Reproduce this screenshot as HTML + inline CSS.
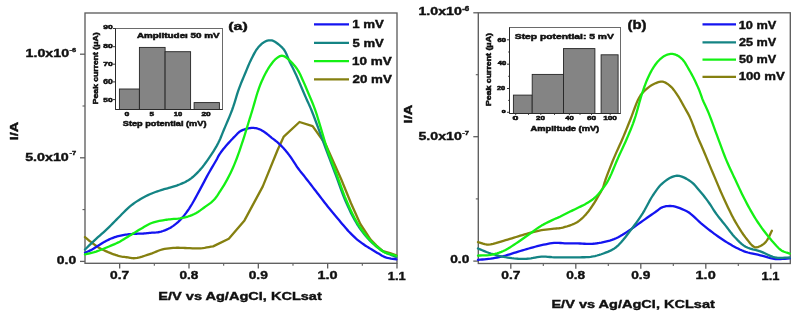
<!DOCTYPE html><html><head><meta charset="utf-8"><style>html,body{margin:0;padding:0;background:#fff;width:797px;height:315px;overflow:hidden}svg{display:block;will-change:transform}text{font-family:"Liberation Sans",sans-serif;font-weight:bold;fill:#111;stroke:#111;stroke-width:0.4px}.hv text{stroke-width:0.5px}</style></head><body>
<svg width="797" height="315" viewBox="0 0 797 315">
<rect x="85" y="13" width="312" height="250.3" fill="none" stroke="#5e5e5e" stroke-width="1.35"/><line x1="119.66499999999995" y1="263.3" x2="119.66499999999995" y2="268.5" stroke="#5e5e5e" stroke-width="1.3"/><line x1="188.995" y1="263.3" x2="188.995" y2="268.5" stroke="#5e5e5e" stroke-width="1.3"/><line x1="258.325" y1="263.3" x2="258.325" y2="268.5" stroke="#5e5e5e" stroke-width="1.3"/><line x1="327.655" y1="263.3" x2="327.655" y2="268.5" stroke="#5e5e5e" stroke-width="1.3"/><line x1="396.985" y1="263.3" x2="396.985" y2="268.5" stroke="#5e5e5e" stroke-width="1.3"/><line x1="154.32999999999998" y1="263.3" x2="154.32999999999998" y2="265.8" stroke="#5e5e5e" stroke-width="1.1"/><line x1="223.65999999999997" y1="263.3" x2="223.65999999999997" y2="265.8" stroke="#5e5e5e" stroke-width="1.1"/><line x1="292.98999999999995" y1="263.3" x2="292.98999999999995" y2="265.8" stroke="#5e5e5e" stroke-width="1.1"/><line x1="362.32" y1="263.3" x2="362.32" y2="265.8" stroke="#5e5e5e" stroke-width="1.1"/><line x1="80" y1="54.2" x2="85" y2="54.2" stroke="#5e5e5e" stroke-width="1.3"/><line x1="80" y1="157.8" x2="85" y2="157.8" stroke="#5e5e5e" stroke-width="1.3"/><line x1="80" y1="261.4" x2="85" y2="261.4" stroke="#5e5e5e" stroke-width="1.3"/><line x1="82.5" y1="106" x2="85" y2="106" stroke="#5e5e5e" stroke-width="1.1"/><line x1="82.5" y1="209.6" x2="85" y2="209.6" stroke="#5e5e5e" stroke-width="1.1"/>
<rect x="478.3" y="12.8" width="311.99999999999994" height="250.7" fill="none" stroke="#5e5e5e" stroke-width="1.35"/><line x1="510.79999999999995" y1="263.5" x2="510.79999999999995" y2="268.7" stroke="#5e5e5e" stroke-width="1.3"/><line x1="575.8000000000001" y1="263.5" x2="575.8000000000001" y2="268.7" stroke="#5e5e5e" stroke-width="1.3"/><line x1="640.8" y1="263.5" x2="640.8" y2="268.7" stroke="#5e5e5e" stroke-width="1.3"/><line x1="705.8" y1="263.5" x2="705.8" y2="268.7" stroke="#5e5e5e" stroke-width="1.3"/><line x1="770.8000000000001" y1="263.5" x2="770.8000000000001" y2="268.7" stroke="#5e5e5e" stroke-width="1.3"/><line x1="543.3" y1="263.5" x2="543.3" y2="266.0" stroke="#5e5e5e" stroke-width="1.1"/><line x1="608.3" y1="263.5" x2="608.3" y2="266.0" stroke="#5e5e5e" stroke-width="1.1"/><line x1="673.3" y1="263.5" x2="673.3" y2="266.0" stroke="#5e5e5e" stroke-width="1.1"/><line x1="738.3" y1="263.5" x2="738.3" y2="266.0" stroke="#5e5e5e" stroke-width="1.1"/><line x1="473.3" y1="12.8" x2="478.3" y2="12.8" stroke="#5e5e5e" stroke-width="1.3"/><line x1="473.3" y1="136.7" x2="478.3" y2="136.7" stroke="#5e5e5e" stroke-width="1.3"/><line x1="473.3" y1="261.1" x2="478.3" y2="261.1" stroke="#5e5e5e" stroke-width="1.3"/><line x1="475.8" y1="74.7" x2="478.3" y2="74.7" stroke="#5e5e5e" stroke-width="1.1"/><line x1="475.8" y1="198.9" x2="478.3" y2="198.9" stroke="#5e5e5e" stroke-width="1.1"/>
<line x1="314" y1="24.3" x2="349" y2="24.3" stroke="#1414f0" stroke-width="2.3"/><line x1="314" y1="42.8" x2="349" y2="42.8" stroke="#148484" stroke-width="2.3"/><line x1="314" y1="61.2" x2="349" y2="61.2" stroke="#14f014" stroke-width="2.3"/><line x1="314" y1="79.4" x2="349" y2="79.4" stroke="#858010" stroke-width="2.3"/>
<line x1="702.5" y1="24.4" x2="736" y2="24.4" stroke="#1414f0" stroke-width="2.3"/><line x1="702.5" y1="42.3" x2="736" y2="42.3" stroke="#148484" stroke-width="2.3"/><line x1="702.5" y1="59.6" x2="736" y2="59.6" stroke="#14f014" stroke-width="2.3"/><line x1="702.5" y1="76.8" x2="736" y2="76.8" stroke="#858010" stroke-width="2.3"/>
<g>
<path d="M85.00,237.10 L86.18,238.07 L87.36,239.06 L88.53,240.04 L89.71,241.02 L90.90,241.97 L92.10,242.90 L93.28,243.79 L94.47,244.67 L95.67,245.53 L96.87,246.36 L98.08,247.15 L99.30,247.90 L100.47,248.56 L101.64,249.18 L102.82,249.76 L104.01,250.32 L105.20,250.86 L106.40,251.40 L107.59,251.92 L108.78,252.44 L109.99,252.93 L111.19,253.41 L112.39,253.87 L113.60,254.30 L114.78,254.70 L115.96,255.09 L117.14,255.46 L118.32,255.81 L119.51,256.12 L120.70,256.40 L121.89,256.63 L123.09,256.82 L124.29,256.98 L125.50,257.12 L126.70,257.26 L127.90,257.40 L129.06,257.58 L130.18,257.79 L131.30,257.99 L132.45,258.16 L133.68,258.24 L135.00,258.20 L137.18,257.89 L139.60,257.33 L142.16,256.60 L144.77,255.77 L147.35,254.91 L149.80,254.10 L151.98,253.33 L154.11,252.48 L156.20,251.61 L158.28,250.77 L160.38,250.01 L162.50,249.40 L164.62,248.94 L166.77,248.58 L168.93,248.30 L171.07,248.08 L173.17,247.92 L175.20,247.80 L176.88,247.75 L178.48,247.75 L180.04,247.80 L181.62,247.88 L183.26,247.95 L185.00,248.00 L187.37,248.08 L189.90,248.19 L192.53,248.30 L195.18,248.38 L197.79,248.39 L200.30,248.30 L202.50,248.10 L204.66,247.82 L206.78,247.48 L208.88,247.11 L210.98,246.74 L213.10,246.40 L213.1,246.4 L228.8,238.7 L244.5,220.4 L262.8,186.4 L277.6,150.0 L283.8,136.6 L299.5,122.0 L312.6,126.2 L325.7,144.5 L341.2,179.3 L351.0,203.3 L360.3,224.0 L370.6,239.6 L376.5,245.5 L382.9,251.0 L390.0,253.2 L396.4,255.4" fill="none" stroke="#858010" stroke-width="2.3" stroke-linejoin="round" stroke-linecap="round"/>
<path d="M85.00,252.80 L86.19,252.26 L87.37,251.74 L88.56,251.21 L89.75,250.67 L90.93,250.11 L92.10,249.50 L93.31,248.81 L94.51,248.07 L95.71,247.30 L96.91,246.52 L98.10,245.75 L99.30,245.00 L100.48,244.28 L101.66,243.55 L102.83,242.83 L104.01,242.12 L105.20,241.44 L106.40,240.80 L107.58,240.20 L108.78,239.62 L109.98,239.07 L111.18,238.55 L112.39,238.06 L113.60,237.60 L114.77,237.20 L115.95,236.82 L117.13,236.48 L118.32,236.17 L119.51,235.87 L120.70,235.60 L121.89,235.35 L123.09,235.12 L124.29,234.91 L125.50,234.73 L126.70,234.56 L127.90,234.40 L129.08,234.26 L130.24,234.15 L131.41,234.04 L132.59,233.96 L133.78,233.88 L135.00,233.80 L136.38,233.73 L137.81,233.69 L139.25,233.66 L140.70,233.62 L142.12,233.57 L143.50,233.50 L144.70,233.41 L145.85,233.30 L146.99,233.18 L148.13,233.05 L149.29,232.92 L150.50,232.80 L151.92,232.70 L153.37,232.63 L154.85,232.57 L156.36,232.46 L157.88,232.29 L159.40,232.00 L161.15,231.55 L162.94,230.99 L164.74,230.34 L166.54,229.61 L168.30,228.79 L170.00,227.90 L171.67,226.91 L173.31,225.84 L174.90,224.69 L176.46,223.44 L177.99,222.12 L179.50,220.70 L181.17,218.98 L182.80,217.13 L184.39,215.17 L185.95,213.12 L187.48,210.99 L189.00,208.80 L190.67,206.23 L192.30,203.52 L193.89,200.71 L195.47,197.85 L197.03,194.96 L198.60,192.10 L200.21,189.15 L201.80,186.14 L203.39,183.11 L204.97,180.10 L206.54,177.15 L208.10,174.30 L209.54,171.75 L211.03,169.19 L212.50,166.68 L213.92,164.27 L215.24,162.03 L216.40,160.00 L217.04,158.83 L217.58,157.78 L218.07,156.80 L218.57,155.84 L219.13,154.86 L219.80,153.80 L220.86,152.29 L222.06,150.71 L223.35,149.08 L224.71,147.45 L226.07,145.84 L227.40,144.30 L228.66,142.87 L229.96,141.45 L231.27,140.05 L232.56,138.70 L233.81,137.41 L235.00,136.20 L235.87,135.29 L236.68,134.41 L237.47,133.57 L238.26,132.78 L239.10,132.05 L240.00,131.40 L240.97,130.84 L241.99,130.35 L243.05,129.92 L244.13,129.54 L245.22,129.20 L246.30,128.90 L247.35,128.63 L248.42,128.38 L249.49,128.17 L250.56,128.02 L251.63,127.92 L252.70,127.90 L253.76,127.95 L254.82,128.06 L255.87,128.23 L256.93,128.46 L257.97,128.75 L259.00,129.10 L260.09,129.55 L261.17,130.08 L262.25,130.67 L263.31,131.32 L264.36,132.00 L265.40,132.70 L266.47,133.47 L267.53,134.30 L268.57,135.17 L269.61,136.06 L270.65,136.94 L271.70,137.80 L272.77,138.63 L273.84,139.44 L274.92,140.24 L275.99,141.06 L277.06,141.91 L278.10,142.80 L279.18,143.79 L280.26,144.82 L281.32,145.89 L282.37,146.98 L283.40,148.08 L284.40,149.20 L285.37,150.31 L286.30,151.41 L287.21,152.53 L288.12,153.69 L289.04,154.91 L290.00,156.20 L291.24,157.98 L292.52,159.92 L293.82,161.95 L295.13,163.99 L296.43,165.97 L297.70,167.80 L298.77,169.24 L299.82,170.60 L300.87,171.91 L301.92,173.20 L302.96,174.49 L304.00,175.80 L305.03,177.12 L306.04,178.42 L307.04,179.72 L308.06,181.04 L309.11,182.39 L310.20,183.80 L311.54,185.53 L312.93,187.33 L314.36,189.18 L315.81,191.05 L317.26,192.93 L318.70,194.80 L320.16,196.70 L321.62,198.61 L323.08,200.53 L324.55,202.44 L326.02,204.33 L327.50,206.20 L328.94,207.98 L330.39,209.75 L331.84,211.49 L333.29,213.23 L334.75,214.96 L336.20,216.70 L337.68,218.48 L339.20,220.32 L340.72,222.15 L342.21,223.93 L343.61,225.60 L344.90,227.10 L345.70,228.02 L346.42,228.85 L347.10,229.62 L347.78,230.38 L348.50,231.16 L349.30,232.00 L350.43,233.16 L351.64,234.39 L352.92,235.65 L354.24,236.91 L355.57,238.14 L356.90,239.30 L358.19,240.37 L359.51,241.40 L360.85,242.41 L362.18,243.38 L363.51,244.31 L364.80,245.20 L365.92,245.94 L367.02,246.64 L368.10,247.31 L369.19,247.97 L370.29,248.63 L371.40,249.30 L372.58,250.02 L373.77,250.75 L374.98,251.47 L376.18,252.20 L377.39,252.91 L378.60,253.60 L379.76,254.28 L380.89,254.97 L382.03,255.65 L383.19,256.30 L384.40,256.89 L385.70,257.40 L387.33,257.87 L389.07,258.23 L390.89,258.52 L392.74,258.77 L394.59,259.01 L396.40,259.30" fill="none" stroke="#1414f0" stroke-width="2.3" stroke-linejoin="round" stroke-linecap="round"/>
<path d="M85.00,249.50 L86.85,247.73 L88.69,245.95 L90.54,244.17 L92.39,242.40 L94.24,240.64 L96.10,238.90 L97.94,237.22 L99.80,235.56 L101.66,233.92 L103.51,232.28 L105.36,230.61 L107.20,228.90 L109.07,227.10 L110.92,225.26 L112.76,223.39 L114.61,221.52 L116.45,219.65 L118.30,217.80 L120.14,215.95 L121.96,214.06 L123.79,212.18 L125.63,210.34 L127.50,208.57 L129.40,206.90 L131.22,205.43 L133.06,204.02 L134.92,202.67 L136.80,201.39 L138.70,200.17 L140.60,199.00 L142.42,197.95 L144.26,196.97 L146.10,196.03 L147.96,195.15 L149.83,194.31 L151.70,193.50 L153.56,192.75 L155.46,192.04 L157.38,191.36 L159.26,190.73 L161.08,190.14 L162.80,189.60 L164.07,189.22 L165.27,188.89 L166.42,188.58 L167.57,188.28 L168.75,187.96 L170.00,187.60 L171.58,187.13 L173.24,186.63 L174.94,186.10 L176.65,185.55 L178.35,184.95 L180.00,184.30 L181.62,183.62 L183.24,182.92 L184.83,182.17 L186.41,181.36 L187.97,180.48 L189.50,179.50 L191.15,178.31 L192.77,177.01 L194.36,175.62 L195.93,174.15 L197.47,172.60 L199.00,171.00 L200.67,169.14 L202.30,167.17 L203.91,165.11 L205.49,162.98 L207.05,160.81 L208.60,158.60 L210.27,156.16 L211.95,153.64 L213.61,151.05 L215.21,148.44 L216.72,145.85 L218.10,143.30 L219.19,141.09 L220.16,138.94 L221.06,136.80 L221.93,134.62 L222.82,132.37 L223.80,130.00 L225.12,126.92 L226.51,123.67 L227.95,120.32 L229.39,116.89 L230.79,113.44 L232.10,110.00 L233.34,106.44 L234.51,102.78 L235.64,99.08 L236.75,95.44 L237.86,91.92 L239.00,88.60 L239.96,86.04 L240.91,83.62 L241.86,81.28 L242.82,78.98 L243.80,76.67 L244.80,74.30 L245.85,71.75 L246.92,69.14 L248.00,66.51 L249.11,63.92 L250.24,61.40 L251.40,59.00 L252.45,56.93 L253.50,54.88 L254.57,52.89 L255.69,50.99 L256.86,49.22 L258.10,47.60 L259.23,46.32 L260.41,45.09 L261.63,43.96 L262.88,42.94 L264.14,42.08 L265.40,41.40 L266.44,40.97 L267.49,40.64 L268.55,40.41 L269.61,40.29 L270.67,40.28 L271.70,40.40 L272.80,40.70 L273.88,41.17 L274.96,41.77 L276.03,42.47 L277.08,43.23 L278.10,44.00 L279.22,44.87 L280.32,45.81 L281.41,46.81 L282.46,47.89 L283.46,49.05 L284.40,50.30 L285.39,51.92 L286.27,53.70 L287.08,55.59 L287.86,57.54 L288.65,59.50 L289.50,61.40 L290.43,63.30 L291.37,65.19 L292.33,67.08 L293.30,68.99 L294.26,70.93 L295.20,72.90 L296.18,75.05 L297.16,77.25 L298.12,79.48 L299.08,81.72 L300.04,83.97 L301.00,86.20 L301.96,88.43 L302.92,90.69 L303.88,92.95 L304.84,95.19 L305.78,97.38 L306.70,99.50 L307.48,101.24 L308.22,102.84 L308.94,104.39 L309.69,106.03 L310.50,107.86 L311.40,110.00 L313.47,115.27 L315.91,121.74 L318.57,128.94 L321.28,136.37 L323.91,143.56 L326.30,150.00 L328.02,154.57 L329.65,158.89 L331.23,163.06 L332.78,167.15 L334.33,171.23 L335.90,175.40 L337.46,179.65 L338.99,183.93 L340.51,188.21 L342.06,192.46 L343.68,196.66 L345.40,200.80 L347.18,204.83 L349.04,208.89 L350.95,212.90 L352.93,216.80 L354.94,220.52 L357.00,224.00 L358.77,226.73 L360.58,229.34 L362.43,231.82 L364.30,234.17 L366.16,236.40 L368.00,238.50 L369.51,240.13 L371.03,241.67 L372.55,243.12 L374.05,244.48 L375.54,245.78 L377.00,247.00 L378.19,247.97 L379.37,248.89 L380.54,249.76 L381.69,250.57 L382.84,251.32 L384.00,252.00 L385.00,252.52 L386.00,252.96 L386.99,253.36 L387.99,253.74 L388.99,254.11 L390.00,254.50 L391.05,254.92 L392.12,255.34 L393.19,255.75 L394.26,256.17 L395.33,256.58 L396.40,257.00" fill="none" stroke="#148484" stroke-width="2.3" stroke-linejoin="round" stroke-linecap="round"/>
<path d="M85.00,254.40 L86.85,253.95 L88.71,253.52 L90.56,253.09 L92.42,252.64 L94.26,252.15 L96.10,251.60 L97.96,250.96 L99.82,250.26 L101.67,249.52 L103.51,248.75 L105.36,247.97 L107.20,247.20 L109.06,246.44 L110.92,245.69 L112.78,244.92 L114.63,244.13 L116.47,243.29 L118.30,242.40 L120.17,241.40 L122.03,240.33 L123.87,239.21 L125.71,238.07 L127.55,236.93 L129.40,235.80 L131.26,234.67 L133.13,233.52 L134.99,232.37 L136.86,231.22 L138.73,230.10 L140.60,229.00 L142.44,227.92 L144.27,226.83 L146.11,225.76 L147.95,224.74 L149.82,223.80 L151.70,223.00 L153.55,222.36 L155.45,221.82 L157.36,221.37 L159.25,220.97 L161.08,220.62 L162.80,220.30 L164.06,220.07 L165.24,219.89 L166.38,219.74 L167.52,219.60 L168.71,219.46 L170.00,219.30 L171.81,219.11 L173.75,218.95 L175.78,218.80 L177.84,218.60 L179.90,218.35 L181.90,218.00 L183.91,217.56 L185.91,217.08 L187.91,216.52 L189.90,215.89 L191.86,215.15 L193.80,214.30 L195.86,213.21 L197.93,211.95 L199.96,210.58 L201.96,209.15 L203.88,207.74 L205.70,206.40 L207.18,205.34 L208.61,204.33 L209.98,203.32 L211.31,202.29 L212.58,201.19 L213.80,200.00 L214.98,198.67 L216.07,197.28 L217.12,195.81 L218.13,194.29 L219.15,192.72 L220.20,191.10 L221.46,189.15 L222.75,187.13 L224.03,185.04 L225.31,182.88 L226.57,180.67 L227.80,178.40 L229.13,175.83 L230.43,173.18 L231.70,170.47 L232.96,167.69 L234.19,164.83 L235.40,161.90 L236.74,158.48 L238.05,154.92 L239.33,151.27 L240.58,147.58 L241.81,143.91 L243.00,140.30 L244.13,136.81 L245.26,133.23 L246.35,129.67 L247.40,126.22 L248.39,122.97 L249.30,120.00 L249.87,118.18 L250.37,116.55 L250.85,115.02 L251.33,113.49 L251.83,111.85 L252.40,110.00 L253.35,106.77 L254.39,103.11 L255.50,99.22 L256.65,95.29 L257.83,91.51 L259.00,88.10 L259.93,85.64 L260.87,83.30 L261.82,81.06 L262.79,78.91 L263.78,76.83 L264.80,74.80 L265.71,73.06 L266.63,71.37 L267.56,69.74 L268.52,68.16 L269.50,66.65 L270.50,65.20 L271.40,63.96 L272.32,62.74 L273.25,61.57 L274.20,60.48 L275.18,59.48 L276.20,58.60 L277.11,57.90 L278.04,57.23 L279.00,56.63 L279.97,56.14 L280.94,55.82 L281.90,55.70 L282.84,55.81 L283.78,56.11 L284.71,56.58 L285.66,57.17 L286.62,57.86 L287.60,58.60 L289.15,59.89 L290.80,61.47 L292.49,63.24 L294.15,65.14 L295.71,67.09 L297.10,69.00 L298.26,70.82 L299.29,72.68 L300.23,74.59 L301.12,76.53 L301.99,78.51 L302.90,80.50 L303.87,82.63 L304.82,84.80 L305.76,86.99 L306.70,89.22 L307.64,91.49 L308.60,93.80 L309.67,96.32 L310.73,98.80 L311.81,101.32 L312.91,103.98 L314.03,106.84 L315.20,110.00 L317.11,115.72 L319.13,122.34 L321.23,129.45 L323.35,136.69 L325.45,143.66 L327.50,150.00 L329.10,154.58 L330.69,158.92 L332.27,163.08 L333.85,167.16 L335.42,171.24 L337.00,175.40 L338.55,179.65 L340.07,183.91 L341.59,188.17 L343.15,192.42 L344.77,196.63 L346.50,200.80 L348.34,204.98 L350.26,209.22 L352.25,213.42 L354.29,217.51 L356.38,221.40 L358.50,225.00 L360.28,227.75 L362.11,230.38 L363.96,232.87 L365.83,235.22 L367.68,237.43 L369.50,239.50 L370.95,241.05 L372.40,242.50 L373.84,243.87 L375.26,245.15 L376.65,246.36 L378.00,247.50 L379.04,248.38 L380.03,249.22 L381.01,250.01 L381.99,250.74 L382.98,251.41 L384.00,252.00 L384.97,252.45 L385.96,252.83 L386.96,253.14 L387.96,253.43 L388.98,253.70 L390.00,254.00 L391.05,254.31 L392.11,254.62 L393.18,254.92 L394.26,255.21 L395.33,255.50 L396.40,255.80" fill="none" stroke="#14f014" stroke-width="2.3" stroke-linejoin="round" stroke-linecap="round"/>
<path d="M478.00,259.90 L480.12,259.70 L482.24,259.51 L484.36,259.32 L486.47,259.12 L488.59,258.88 L490.70,258.60 L492.82,258.27 L494.95,257.90 L497.06,257.50 L499.18,257.07 L501.29,256.60 L503.40,256.10 L505.53,255.54 L507.64,254.93 L509.76,254.28 L511.87,253.61 L513.99,252.95 L516.10,252.30 L518.22,251.66 L520.33,251.02 L522.45,250.37 L524.56,249.73 L526.68,249.11 L528.80,248.50 L530.91,247.91 L533.03,247.33 L535.14,246.76 L537.26,246.21 L539.38,245.69 L541.50,245.20 L543.60,244.73 L545.69,244.26 L547.79,243.81 L549.89,243.42 L551.99,243.11 L554.10,242.90 L556.22,242.83 L558.35,242.88 L560.49,243.01 L562.62,243.17 L564.73,243.31 L566.80,243.40 L568.70,243.42 L570.56,243.42 L572.40,243.40 L574.24,243.38 L576.10,243.38 L578.00,243.40 L580.07,243.48 L582.18,243.61 L584.30,243.76 L586.44,243.88 L588.58,243.94 L590.70,243.90 L592.82,243.76 L594.95,243.54 L597.07,243.26 L599.18,242.93 L601.30,242.54 L603.40,242.10 L605.54,241.62 L607.67,241.10 L609.80,240.53 L611.92,239.88 L614.02,239.15 L616.10,238.30 L618.26,237.26 L620.38,236.09 L622.48,234.82 L624.57,233.48 L626.68,232.10 L628.80,230.70 L631.11,229.16 L633.43,227.54 L635.77,225.88 L638.10,224.19 L640.42,222.52 L642.70,220.90 L644.89,219.36 L647.09,217.80 L649.28,216.25 L651.42,214.75 L653.47,213.32 L655.40,212.00 L656.75,211.03 L658.00,210.06 L659.20,209.14 L660.39,208.30 L661.64,207.58 L663.00,207.00 L664.55,206.55 L666.18,206.23 L667.86,206.04 L669.59,205.97 L671.34,206.02 L673.10,206.20 L675.23,206.63 L677.52,207.32 L679.83,208.16 L682.05,209.09 L684.08,210.00 L685.80,210.80 L686.63,211.20 L687.33,211.56 L687.96,211.92 L688.58,212.30 L689.24,212.75 L690.00,213.30 L691.57,214.56 L693.34,216.14 L695.23,217.91 L697.20,219.77 L699.18,221.60 L701.10,223.30 L702.93,224.84 L704.77,226.36 L706.62,227.86 L708.47,229.33 L710.33,230.78 L712.20,232.20 L714.03,233.56 L715.87,234.90 L717.72,236.21 L719.57,237.50 L721.43,238.77 L723.30,240.00 L725.13,241.19 L726.97,242.36 L728.81,243.50 L730.66,244.61 L732.52,245.68 L734.40,246.70 L736.22,247.65 L738.03,248.57 L739.85,249.45 L741.71,250.29 L743.62,251.07 L745.60,251.80 L747.91,252.51 L750.31,253.13 L752.79,253.68 L755.30,254.21 L757.81,254.73 L760.30,255.30 L762.81,255.96 L765.33,256.69 L767.85,257.42 L770.37,258.09 L772.89,258.64 L775.40,259.00 L777.79,259.14 L780.18,259.10 L782.56,258.95 L784.94,258.75 L787.32,258.55 L789.70,258.40" fill="none" stroke="#1414f0" stroke-width="2.3" stroke-linejoin="round" stroke-linecap="round"/>
<path d="M478.00,248.50 L480.11,249.35 L482.22,250.23 L484.33,251.10 L486.45,251.96 L488.57,252.76 L490.70,253.50 L492.80,254.16 L494.91,254.77 L497.03,255.34 L499.15,255.87 L501.27,256.35 L503.40,256.80 L505.51,257.21 L507.62,257.57 L509.74,257.90 L511.86,258.19 L513.98,258.42 L516.10,258.60 L518.21,258.73 L520.33,258.81 L522.45,258.84 L524.57,258.81 L526.69,258.74 L528.80,258.60 L530.92,258.35 L533.04,257.98 L535.15,257.56 L537.27,257.14 L539.38,256.80 L541.50,256.60 L543.60,256.57 L545.70,256.66 L547.80,256.83 L549.89,257.02 L552.00,257.19 L554.10,257.30 L556.22,257.34 L558.36,257.35 L560.50,257.34 L562.62,257.33 L564.73,257.31 L566.80,257.30 L568.70,257.31 L570.56,257.32 L572.40,257.33 L574.24,257.33 L576.10,257.33 L578.00,257.30 L580.07,257.28 L582.18,257.27 L584.31,257.25 L586.45,257.19 L588.59,257.05 L590.70,256.80 L592.83,256.44 L594.97,256.01 L597.09,255.50 L599.21,254.90 L601.31,254.24 L603.40,253.50 L605.56,252.69 L607.72,251.84 L609.86,250.92 L611.98,249.86 L614.06,248.64 L616.10,247.20 L618.54,245.07 L620.92,242.57 L623.25,239.82 L625.54,236.92 L627.78,233.97 L630.00,231.10 L632.22,228.23 L634.42,225.30 L636.58,222.33 L638.69,219.33 L640.73,216.32 L642.70,213.30 L644.49,210.32 L646.17,207.27 L647.80,204.20 L649.41,201.18 L651.06,198.26 L652.80,195.50 L654.39,193.15 L655.97,190.84 L657.57,188.62 L659.25,186.51 L661.05,184.56 L663.00,182.80 L665.10,181.16 L667.37,179.55 L669.74,178.09 L672.17,176.89 L674.61,176.06 L677.00,175.70 L679.37,175.90 L681.81,176.58 L684.26,177.61 L686.64,178.87 L688.88,180.24 L690.90,181.60 L692.46,182.81 L693.85,184.12 L695.14,185.52 L696.38,186.97 L697.61,188.48 L698.90,190.00 L700.39,191.72 L701.88,193.51 L703.38,195.34 L704.87,197.23 L706.34,199.15 L707.80,201.10 L709.31,203.24 L710.79,205.47 L712.25,207.75 L713.71,210.02 L715.19,212.25 L716.70,214.40 L718.16,216.34 L719.63,218.23 L721.12,220.09 L722.62,221.92 L724.11,223.75 L725.60,225.60 L727.05,227.47 L728.46,229.35 L729.88,231.24 L731.32,233.10 L732.82,234.93 L734.40,236.70 L736.10,238.51 L737.85,240.34 L739.66,242.12 L741.54,243.81 L743.52,245.36 L745.60,246.70 L747.86,247.79 L750.25,248.63 L752.74,249.32 L755.28,249.95 L757.81,250.61 L760.30,251.40 L762.81,252.41 L765.33,253.57 L767.84,254.76 L770.35,255.89 L772.87,256.83 L775.40,257.50 L777.77,257.82 L780.16,257.91 L782.54,257.85 L784.93,257.70 L787.31,257.56 L789.70,257.50" fill="none" stroke="#148484" stroke-width="2.3" stroke-linejoin="round" stroke-linecap="round"/>
<path d="M478.00,242.10 L479.68,242.58 L481.33,243.12 L482.97,243.67 L484.65,244.14 L486.38,244.48 L488.20,244.60 L490.58,244.41 L493.10,243.90 L495.70,243.19 L498.33,242.37 L500.92,241.54 L503.40,240.80 L505.59,240.18 L507.72,239.55 L509.83,238.92 L511.91,238.28 L514.00,237.64 L516.10,237.00 L518.22,236.36 L520.33,235.70 L522.44,235.05 L524.56,234.41 L526.68,233.79 L528.80,233.20 L530.91,232.64 L533.02,232.09 L535.14,231.56 L537.26,231.06 L539.38,230.60 L541.50,230.20 L543.65,229.86 L545.87,229.57 L548.09,229.31 L550.25,229.09 L552.27,228.89 L554.10,228.70 L555.20,228.59 L556.19,228.52 L557.12,228.45 L558.04,228.37 L558.98,228.26 L560.00,228.10 L561.36,227.83 L562.79,227.51 L564.26,227.14 L565.75,226.73 L567.24,226.28 L568.70,225.80 L570.19,225.29 L571.68,224.76 L573.17,224.19 L574.64,223.55 L576.09,222.83 L577.50,222.00 L579.03,220.93 L580.55,219.71 L582.03,218.40 L583.47,217.00 L584.86,215.56 L586.20,214.10 L587.48,212.59 L588.71,211.02 L589.89,209.40 L591.03,207.75 L592.13,206.11 L593.20,204.50 L594.16,203.02 L595.08,201.54 L595.97,200.06 L596.83,198.60 L597.67,197.14 L598.50,195.70 L599.27,194.38 L600.04,193.09 L600.79,191.80 L601.51,190.51 L602.19,189.22 L602.80,187.90 L603.30,186.65 L603.71,185.43 L604.08,184.21 L604.45,182.93 L604.88,181.54 L605.40,180.00 L606.51,176.96 L607.83,173.44 L609.29,169.62 L610.84,165.67 L612.39,161.78 L613.90,158.10 L615.30,154.83 L616.72,151.62 L618.16,148.46 L619.60,145.32 L621.01,142.17 L622.40,139.00 L623.73,135.86 L625.02,132.74 L626.30,129.62 L627.58,126.47 L628.87,123.27 L630.20,120.00 L631.70,116.13 L633.23,111.96 L634.78,107.73 L636.35,103.67 L637.92,100.02 L639.50,97.00 L640.42,95.55 L641.33,94.30 L642.24,93.19 L643.17,92.18 L644.15,91.20 L645.20,90.20 L646.36,89.14 L647.57,88.09 L648.83,87.08 L650.15,86.13 L651.50,85.26 L652.90,84.50 L654.40,83.77 L655.99,83.07 L657.63,82.45 L659.28,81.97 L660.88,81.70 L662.40,81.70 L663.75,81.97 L665.07,82.45 L666.35,83.12 L667.59,83.93 L668.81,84.83 L670.00,85.80 L671.37,87.09 L672.70,88.57 L673.98,90.20 L675.22,91.92 L676.43,93.67 L677.60,95.40 L678.75,97.17 L679.85,99.00 L680.91,100.86 L681.94,102.75 L682.97,104.63 L684.00,106.50 L685.02,108.31 L686.04,110.08 L687.04,111.85 L688.03,113.67 L689.02,115.57 L690.00,117.60 L691.21,120.37 L692.40,123.36 L693.59,126.49 L694.76,129.66 L695.93,132.76 L697.10,135.70 L698.13,138.15 L699.13,140.48 L700.13,142.75 L701.15,145.05 L702.20,147.44 L703.30,150.00 L704.76,153.47 L706.29,157.14 L707.87,160.96 L709.49,164.87 L711.13,168.84 L712.80,172.80 L714.64,177.16 L716.52,181.64 L718.43,186.17 L720.37,190.70 L722.33,195.16 L724.30,199.50 L726.15,203.48 L728.00,207.44 L729.88,211.33 L731.78,215.14 L733.71,218.84 L735.70,222.40 L737.55,225.53 L739.46,228.62 L741.39,231.63 L743.34,234.49 L745.25,237.13 L747.10,239.50 L748.40,241.12 L749.67,242.72 L750.92,244.21 L752.17,245.49 L753.43,246.49 L754.70,247.10 L755.65,247.28 L756.61,247.26 L757.58,247.08 L758.54,246.78 L759.48,246.41 L760.40,246.00 L761.42,245.48 L762.43,244.85 L763.42,244.13 L764.38,243.31 L765.31,242.40 L766.20,241.40 L767.26,239.93 L768.24,238.23 L769.17,236.39 L770.07,234.47 L770.97,232.55 L771.90,230.70" fill="none" stroke="#858010" stroke-width="2.3" stroke-linejoin="round" stroke-linecap="round"/>
<path d="M478.00,255.60 L480.12,255.50 L482.24,255.44 L484.37,255.38 L486.49,255.28 L488.60,255.10 L490.70,254.80 L492.84,254.38 L494.98,253.88 L497.11,253.29 L499.23,252.62 L501.32,251.86 L503.40,251.00 L505.56,249.96 L507.70,248.78 L509.81,247.50 L511.92,246.15 L514.01,244.77 L516.10,243.40 L518.23,241.98 L520.36,240.52 L522.47,239.02 L524.58,237.51 L526.69,236.00 L528.80,234.50 L530.91,232.99 L533.01,231.45 L535.12,229.90 L537.23,228.39 L539.35,226.95 L541.50,225.60 L543.63,224.39 L545.84,223.23 L548.06,222.13 L550.22,221.10 L552.26,220.16 L554.10,219.30 L555.19,218.80 L556.18,218.37 L557.12,217.97 L558.03,217.58 L558.98,217.17 L560.00,216.70 L561.36,216.04 L562.78,215.33 L564.25,214.58 L565.74,213.81 L567.23,213.04 L568.70,212.30 L570.16,211.58 L571.63,210.86 L573.10,210.15 L574.57,209.44 L576.04,208.72 L577.50,208.00 L578.96,207.29 L580.42,206.59 L581.87,205.89 L583.32,205.17 L584.77,204.41 L586.20,203.60 L587.71,202.69 L589.22,201.75 L590.73,200.76 L592.21,199.73 L593.64,198.64 L595.00,197.50 L596.28,196.30 L597.49,195.05 L598.66,193.74 L599.79,192.39 L600.90,191.01 L602.00,189.60 L603.12,188.13 L604.19,186.67 L605.24,185.17 L606.29,183.59 L607.33,181.88 L608.40,180.00 L609.98,176.88 L611.58,173.35 L613.19,169.55 L614.81,165.64 L616.41,161.77 L618.00,158.10 L619.48,154.84 L620.96,151.64 L622.43,148.47 L623.89,145.33 L625.31,142.18 L626.70,139.00 L628.04,135.88 L629.35,132.79 L630.63,129.69 L631.88,126.56 L633.11,123.34 L634.30,120.00 L635.60,115.98 L636.85,111.71 L638.06,107.34 L639.24,103.00 L640.42,98.84 L641.60,95.00 L642.52,92.21 L643.41,89.55 L644.30,87.00 L645.20,84.54 L646.12,82.15 L647.10,79.80 L648.01,77.74 L648.94,75.72 L649.89,73.75 L650.87,71.85 L651.87,70.03 L652.90,68.30 L653.80,66.88 L654.72,65.52 L655.65,64.22 L656.61,62.97 L657.59,61.80 L658.60,60.70 L659.52,59.78 L660.45,58.90 L661.41,58.07 L662.38,57.31 L663.38,56.61 L664.40,56.00 L665.38,55.48 L666.38,55.01 L667.40,54.60 L668.43,54.27 L669.47,54.03 L670.50,53.90 L671.52,53.88 L672.54,53.96 L673.58,54.12 L674.60,54.37 L675.61,54.70 L676.60,55.10 L677.68,55.64 L678.75,56.30 L679.81,57.05 L680.84,57.88 L681.83,58.81 L682.80,59.80 L683.91,61.15 L684.98,62.67 L686.00,64.32 L686.98,66.03 L687.95,67.74 L688.90,69.40 L689.82,70.98 L690.70,72.55 L691.57,74.13 L692.42,75.72 L693.26,77.34 L694.10,79.00 L695.00,80.84 L695.91,82.74 L696.81,84.68 L697.68,86.62 L698.52,88.53 L699.30,90.40 L699.93,92.02 L700.50,93.60 L701.04,95.16 L701.58,96.73 L702.15,98.34 L702.80,100.00 L703.65,102.00 L704.58,104.03 L705.55,106.10 L706.56,108.25 L707.58,110.51 L708.60,112.90 L709.96,116.31 L711.36,120.00 L712.78,123.88 L714.22,127.85 L715.67,131.82 L717.10,135.70 L718.55,139.61 L720.04,143.65 L721.52,147.68 L722.98,151.60 L724.38,155.28 L725.70,158.60 L726.55,160.66 L727.36,162.54 L728.14,164.31 L728.91,166.02 L729.69,167.73 L730.50,169.50 L731.34,171.31 L732.18,173.10 L733.02,174.88 L733.89,176.69 L734.78,178.56 L735.70,180.50 L736.84,182.94 L738.02,185.49 L739.23,188.11 L740.47,190.77 L741.73,193.41 L743.00,196.00 L744.28,198.54 L745.58,201.08 L746.91,203.61 L748.24,206.11 L749.58,208.54 L750.90,210.90 L752.07,212.94 L753.23,214.91 L754.39,216.83 L755.56,218.73 L756.76,220.61 L758.00,222.50 L759.31,224.43 L760.67,226.38 L762.06,228.31 L763.46,230.20 L764.85,232.04 L766.20,233.80 L767.34,235.26 L768.45,236.66 L769.55,238.01 L770.66,239.34 L771.81,240.67 L773.00,242.00 L774.31,243.47 L775.66,245.01 L777.04,246.53 L778.46,247.98 L779.91,249.29 L781.40,250.40 L782.73,251.15 L784.10,251.75 L785.49,252.24 L786.90,252.67 L788.31,253.11 L789.70,253.60" fill="none" stroke="#14f014" stroke-width="2.3" stroke-linejoin="round" stroke-linecap="round"/>
</g>
<rect x="119.4" y="89" width="20.0" height="20.5" fill="#848484" stroke="#252525" stroke-width="0.9"/><rect x="139.4" y="47.4" width="25.7" height="62.1" fill="#848484" stroke="#252525" stroke-width="0.9"/><rect x="165.1" y="51.7" width="25.5" height="57.8" fill="#848484" stroke="#252525" stroke-width="0.9"/><rect x="194.1" y="102.6" width="25.3" height="6.9" fill="#848484" stroke="#252525" stroke-width="0.9"/><rect x="115.5" y="28.5" width="107.0" height="81.0" fill="none" stroke="#6a6a6a" stroke-width="1"/><line x1="115.5" y1="28.5" x2="115.5" y2="109.5" stroke="#2a2a2a" stroke-width="1"/><line x1="115.5" y1="109.5" x2="222.5" y2="109.5" stroke="#2a2a2a" stroke-width="1"/><line x1="113.0" y1="99.6" x2="115.5" y2="99.6" stroke="#333" stroke-width="1"/><line x1="113.0" y1="81.9" x2="115.5" y2="81.9" stroke="#333" stroke-width="1"/><line x1="113.0" y1="64.2" x2="115.5" y2="64.2" stroke="#333" stroke-width="1"/><line x1="113.0" y1="46.7" x2="115.5" y2="46.7" stroke="#333" stroke-width="1"/><line x1="113.0" y1="28.5" x2="115.5" y2="28.5" stroke="#333" stroke-width="1"/>
<rect x="513.4" y="95.1" width="18.8" height="18.4" fill="#848484" stroke="#252525" stroke-width="0.9"/><rect x="532.2" y="74.4" width="31.3" height="39.1" fill="#848484" stroke="#252525" stroke-width="0.9"/><rect x="563.5" y="48.6" width="31.4" height="64.9" fill="#848484" stroke="#252525" stroke-width="0.9"/><rect x="601.1" y="54.8" width="17.0" height="58.7" fill="#848484" stroke="#252525" stroke-width="0.9"/><rect x="509.5" y="27.5" width="111.0" height="86.0" fill="none" stroke="#6a6a6a" stroke-width="1"/><line x1="509.5" y1="27.5" x2="509.5" y2="113.5" stroke="#2a2a2a" stroke-width="1"/><line x1="509.5" y1="113.5" x2="620.5" y2="113.5" stroke="#2a2a2a" stroke-width="1"/><line x1="507.0" y1="112.3" x2="509.5" y2="112.3" stroke="#333" stroke-width="1"/><line x1="507.0" y1="88.5" x2="509.5" y2="88.5" stroke="#333" stroke-width="1"/><line x1="507.0" y1="64.2" x2="509.5" y2="64.2" stroke="#333" stroke-width="1"/><line x1="507.0" y1="39.8" x2="509.5" y2="39.8" stroke="#333" stroke-width="1"/><line x1="508.0" y1="52.0" x2="509.5" y2="52.0" stroke="#333" stroke-width="0.8"/><line x1="508.0" y1="76.3" x2="509.5" y2="76.3" stroke="#333" stroke-width="0.8"/><line x1="508.0" y1="100.4" x2="509.5" y2="100.4" stroke="#333" stroke-width="0.8"/><line x1="515.7" y1="113.5" x2="515.7" y2="115.0" stroke="#333" stroke-width="0.9"/><line x1="540.8" y1="113.5" x2="540.8" y2="115.0" stroke="#333" stroke-width="0.9"/><line x1="569.4" y1="113.5" x2="569.4" y2="115.0" stroke="#333" stroke-width="0.9"/><line x1="591.5" y1="113.5" x2="591.5" y2="115.0" stroke="#333" stroke-width="0.9"/><line x1="610.2" y1="113.5" x2="610.2" y2="115.0" stroke="#333" stroke-width="0.9"/><line x1="528.5" y1="113.5" x2="528.5" y2="115.0" stroke="#333" stroke-width="0.9"/><line x1="554.5" y1="113.5" x2="554.5" y2="115.0" stroke="#333" stroke-width="0.9"/><line x1="580" y1="113.5" x2="580" y2="115.0" stroke="#333" stroke-width="0.9"/>
<g><text transform="translate(25.51,56.99) scale(1.259,1)" font-size="11.32" >1.0x10</text><text transform="translate(69.62,52.12) scale(1.210,1)" font-size="6.17" >-6</text><text transform="translate(25.21,160.61) scale(1.319,1)" font-size="10.80" >5.0x10</text><text transform="translate(69.61,155.39) scale(1.213,1)" font-size="6.22" >-7</text><text transform="translate(56.83,263.50) scale(1.258,1)" font-size="11.06" >0.0</text><text transform="translate(418.49,15.32) scale(1.327,1)" font-size="10.68" >1.0x10</text><text transform="translate(462.21,10.80) scale(1.208,1)" font-size="6.56" >-6</text><text transform="translate(418.43,140.30) scale(1.267,1)" font-size="11.19" >5.0x10</text><text transform="translate(462.20,134.79) scale(1.233,1)" font-size="6.22" >-7</text><text transform="translate(450.24,262.50) scale(1.237,1)" font-size="11.06" >0.0</text><text transform="translate(110.10,279.40) scale(1.246,1)" font-size="11.06" >0.7</text><text transform="translate(501.25,279.39) scale(1.217,1)" font-size="11.32" >0.7</text><text transform="translate(179.44,279.40) scale(1.235,1)" font-size="11.06" >0.8</text><text transform="translate(566.25,279.39) scale(1.205,1)" font-size="11.32" >0.8</text><text transform="translate(248.76,279.40) scale(1.239,1)" font-size="11.06" >0.9</text><text transform="translate(631.25,279.39) scale(1.210,1)" font-size="11.32" >0.9</text><text transform="translate(317.44,279.40) scale(1.308,1)" font-size="11.06" >1.0</text><text transform="translate(695.59,279.39) scale(1.277,1)" font-size="11.32" >1.0</text><text transform="translate(387.76,279.51) scale(1.137,1)" font-size="11.38" >1.1</text><text transform="translate(761.59,279.50) scale(1.110,1)" font-size="11.65" >1.1</text><text transform="translate(158.32,299.95) scale(1.264,1)" font-size="11.52" >E/V vs Ag/AgCl, KCLsat</text><text transform="translate(551.42,308.37) scale(1.275,1)" font-size="11.41" >E/V vs Ag/AgCl, KCLsat</text><text transform="translate(17.59,140.18) rotate(-90) scale(1.346,1)" font-size="10.75">I/A</text><text transform="translate(412.38,123.39) rotate(-90) scale(1.313,1)" font-size="11.14">I/A</text><text transform="translate(228.30,30.10) scale(1.377,1)" font-size="11.58" >(a)</text><text transform="translate(627.56,29.23) scale(1.249,1)" font-size="11.90" >(b)</text><text transform="translate(352.14,28.34) scale(1.237,1)" font-size="10.72" >1 mV</text><text transform="translate(352.54,46.53) scale(1.239,1)" font-size="10.57" >5 mV</text><text transform="translate(352.12,64.73) scale(1.293,1)" font-size="10.42" >10 mV</text><text transform="translate(352.50,82.93) scale(1.281,1)" font-size="10.42" >20 mV</text><text transform="translate(738.68,28.51) scale(1.182,1)" font-size="10.80" >10 mV</text><text transform="translate(739.04,45.81) scale(1.157,1)" font-size="10.93" >25 mV</text><text transform="translate(739.07,63.01) scale(1.156,1)" font-size="10.93" >50 mV</text><text transform="translate(738.65,80.12) scale(1.232,1)" font-size="10.68" >100 mV</text></g>
<g class="hv"><text transform="translate(103.34,101.62) scale(1.369,1)" font-size="6.17" >50</text><text transform="translate(103.31,84.01) scale(1.318,1)" font-size="6.43" >60</text><text transform="translate(103.25,65.83) scale(1.413,1)" font-size="6.05" >70</text><text transform="translate(103.33,47.64) scale(1.465,1)" font-size="5.79" >80</text><text transform="translate(103.31,29.33) scale(1.403,1)" font-size="6.05" >90</text><text transform="translate(124.46,115.93) scale(1.454,1)" font-size="5.92" >0</text><text transform="translate(149.44,115.93) scale(1.375,1)" font-size="6.00" >5</text><text transform="translate(173.74,115.93) scale(1.273,1)" font-size="5.92" >10</text><text transform="translate(201.52,115.93) scale(1.402,1)" font-size="5.92" >20</text><text transform="translate(122.79,125.83) scale(1.221,1)" font-size="7.53" >Step potential (mV)</text><text transform="translate(98.06,104.14) rotate(-90) scale(1.270,1)" font-size="6.78">Peak current (μA)</text><text transform="translate(136.91,38.44) scale(1.381,1)" font-size="7.15" >Amplitudeı 50 mV</text><text transform="translate(501.85,113.23) scale(1.817,1)" font-size="3.86" >0</text><text transform="translate(496.93,89.77) scale(1.416,1)" font-size="5.14" >20</text><text transform="translate(497.77,65.37) scale(1.463,1)" font-size="5.14" >40</text><text transform="translate(497.58,41.58) scale(1.577,1)" font-size="4.89" >60</text><text transform="translate(512.59,120.23) scale(1.733,1)" font-size="6.05" >0</text><text transform="translate(535.93,120.23) scale(1.339,1)" font-size="6.05" >20</text><text transform="translate(565.20,120.23) scale(1.282,1)" font-size="6.05" >40</text><text transform="translate(586.90,120.23) scale(1.374,1)" font-size="6.05" >60</text><text transform="translate(603.20,120.23) scale(1.361,1)" font-size="6.05" >100</text><text transform="translate(530.62,130.65) scale(1.347,1)" font-size="6.90" >Amplitude (mV)</text><text transform="translate(490.66,106.05) rotate(-90) scale(1.319,1)" font-size="6.65">Peak current (μA)</text><text transform="translate(514.77,38.72) scale(1.327,1)" font-size="7.78" >Step potential: 5 mV</text></g>
</svg></body></html>
